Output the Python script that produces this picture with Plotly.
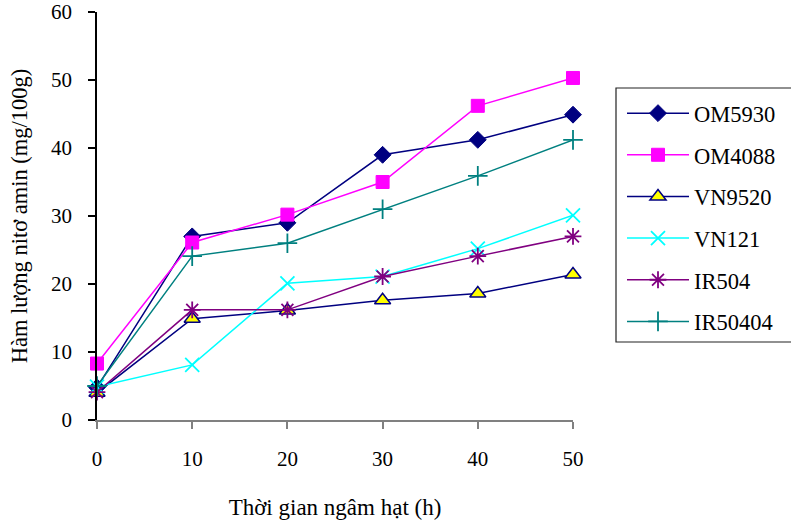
import plotly.graph_objects as go

hours = [0, 10, 20, 30, 40, 50]
om5930 = [4.8, 27.0, 29.0, 39.0, 41.2, 44.9]
om4088 = [8.3, 26.1, 30.2, 35.0, 46.2, 50.3]
vn9520 = [4.0, 14.9, 16.1, 17.6, 18.6, 21.4]
vn121 = [4.9, 8.1, 20.1, 21.1, 25.2, 30.1]
ir504 = [4.1, 16.2, 16.2, 21.1, 24.1, 27.0]
ir50404 = [5.0, 24.1, 26.0, 31.0, 35.9, 41.2]

FONT = "Liberation Serif, Times New Roman, serif"

series = [
    ("OM5930", om5930, dict(symbol="diamond", size=13, color="#000080", line=dict(color="#000080", width=1)), "#000080"),
    ("OM4088", om4088, dict(symbol="square", size=13, color="#FF00FF", line=dict(color="#FF00FF", width=1)), "#FF00FF"),
    ("VN9520", vn9520, dict(symbol="triangle-up", size=14, color="#FFFF00", line=dict(color="#000080", width=1.5)), "#000080"),
    ("VN121", vn121, dict(symbol="x-thin-open", size=14, color="#00FFFF", line=dict(color="#00FFFF", width=1.8)), "#00FFFF"),
    ("IR504", ir504, dict(symbol="asterisk-open", size=14, color="#800080", line=dict(color="#800080", width=1.8)), "#800080"),
    ("IR50404", ir50404, dict(symbol="cross-thin-open", size=14, color="#008080", line=dict(color="#008080", width=1.8)), "#008080"),
]

fig = go.Figure()
for name, vals, marker, lc in series:
    fig.add_trace(go.Scatter(
        x=hours, y=vals, name=name, mode="lines+markers",
        line=dict(color=lc, width=1.5), marker=marker,
        cliponaxis=False, legendgroup=name,
    ))

# plot area in pixels: x 97..573, y 12..420
def px_x(p):
    return (p - 97) / 476.0

def px_y(p):
    return (420 - p) / 408.0

fig.add_shape(
    type="rect", xref="paper", yref="paper",
    x0=px_x(616), x1=px_x(805), y0=px_y(342), y1=px_y(88),
    line=dict(color="#222222", width=1.2), fillcolor="white", layer="below",
)

fig.update_layout(
    width=791, height=520,
    margin=dict(l=97, r=218, t=12, b=100, autoexpand=False),
    paper_bgcolor="white", plot_bgcolor="white",
    font=dict(family=FONT, size=21, color="black"),
    showlegend=True,
    legend=dict(
        xref="container", yref="container",
        x=622/791, y=1-92/520, xanchor="left", yanchor="top",
        borderwidth=0, bgcolor="rgba(0,0,0,0)",
        font=dict(family=FONT, size=22.5, color="black"),
        itemwidth=62, tracegroupgap=9.4, maxheight=500,
    ),
    xaxis=dict(
        range=[0, 50], tickvals=hours, showgrid=False, zeroline=False,
        showline=True, linecolor="#808080", linewidth=1.5,
        ticks="outside", ticklen=7, tickcolor="#808080", tickwidth=1.5,
        ticklabelstandoff=12, automargin=False,
        title=dict(text="Thời gian ngâm hạt (h)", standoff=30, font=dict(family=FONT, size=23)),
    ),
    yaxis=dict(
        range=[0, 60], tickvals=[0, 10, 20, 30, 40, 50, 60], showgrid=False, zeroline=False,
        showline=True, linecolor="black", linewidth=1.5,
        ticks="outside", ticklen=7, tickcolor="black", tickwidth=1.5,
        ticklabelstandoff=12, automargin=False,
        title=dict(text="Hàm lượng nitơ amin (mg/100g)", standoff=17, font=dict(family=FONT, size=22.5)),
    ),
)

fig.write_html("out.html")
